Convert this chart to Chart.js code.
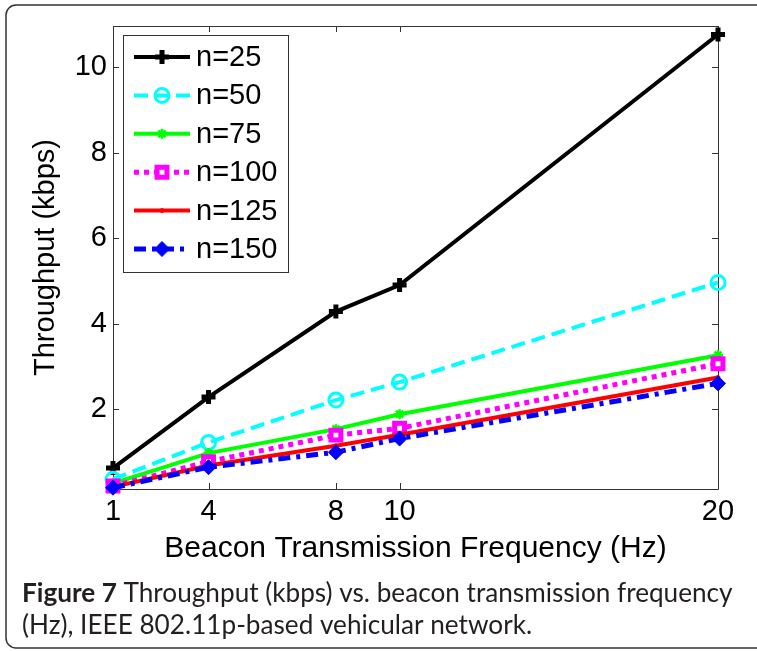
<!DOCTYPE html>
<html><head><meta charset="utf-8">
<script src="https://cdn.jsdelivr.net/npm/chart.js@4/dist/chart.umd.min.js"></script>
<style>html,body{margin:0;padding:0;background:#fff}#wrap{width:757px;height:651px;position:relative}canvas{display:block}</style>
</head><body><div id="wrap"><canvas id="c" width="757" height="651"></canvas></div>
<script>
// ---- data ----
const freqs = [1, 4, 8, 10, 20];
const xTicks = [1, 4, 8, 10, 20];
const yTicks = [2, 4, 6, 8, 10];
const seriesNames = ['n=25', 'n=50', 'n=75', 'n=100', 'n=125', 'n=150'];
const n25  = [0.62, 2.28, 4.28, 4.90, 10.76];
const n50  = [0.36, 1.22, 2.21, 2.63, 4.96];
const n75  = [0.26, 0.97, 1.53, 1.88, 3.26];
const n100 = [0.20, 0.77, 1.39, 1.55, 3.06];
const n125 = [0.18, 0.68, 1.14, 1.40, 2.74];
const n150 = [0.16, 0.64, 0.99, 1.31, 2.60];
const xTitle = 'Beacon Transmission Frequency (Hz)';
const yTitle = 'Throughput (kbps)';
const captionBold = 'Figure 7';
const captionLine1 = ' Throughput (kbps) vs. beacon transmission frequency';
const captionLine2 = '(Hz), IEEE 802.11p-based vehicular network.';

const seriesValues = [n25, n50, n75, n100, n125, n150];
const styles = [
  {color:'#000000', dash:[],           lw:4, ps:'cross',   r:7,   pbw:5, bg:'#000000'},
  {color:'#00ffff', dash:[14,7],       lw:4, ps:'circle',  r:7,   pbw:3, bg:'rgba(0,0,0,0)'},
  {color:'#00ff00', dash:[],           lw:4, ps:'star',    r:5,   pbw:2.5, bg:'#00ff00'},
  {color:'#ff00ff', dash:[5,5],        lw:5, ps:'rect',    r:7,   pbw:5, bg:'#ffffff'},
  {color:'#ff0000', dash:[],           lw:4, ps:'circle',  r:2,   pbw:1, bg:'#ff0000'},
  {color:'#0000ff', dash:[12,6,4,6],   lw:5, ps:'rectRot', r:7.5, pbw:1, bg:'#0000ff'}
];

const FONT = "'Liberation Sans', Arial, Helvetica, sans-serif";
Chart.defaults.font.family = FONT;
Chart.defaults.color = '#000';

const datasets = seriesValues.map((vals, i) => {
  const s = styles[i];
  return {
    label: seriesNames[i],
    data: freqs.map((x, k) => ({x: x, y: vals[k]})),
    borderColor: s.color,
    backgroundColor: s.color,
    borderWidth: s.lw,
    borderDash: s.dash,
    borderCapStyle: 'butt',
    tension: 0,
    pointStyle: s.ps,
    pointRadius: s.r,
    pointHoverRadius: s.r,
    pointBorderWidth: s.pbw,
    pointBorderColor: s.color,
    pointBackgroundColor: s.bg,
    clip: false,
    order: seriesValues.length - 1 - i
  };
});

const AX_COLOR = '#333';

const axesPlugin = {
  id: 'matlabAxes',
  beforeDatasetsDraw(chart) {
    const {ctx, chartArea: a, scales: {x, y}} = chart;
    ctx.save();
    ctx.strokeStyle = AX_COLOR;
    ctx.lineWidth = 1;
    ctx.beginPath();
    ctx.rect(Math.round(a.left) + 0.5, Math.round(a.top) + 0.5, Math.round(a.right - a.left), Math.round(a.bottom - a.top));
    ctx.stroke();
    const tl = 6;
    ctx.beginPath();
    xTicks.forEach(v => {
      const px = Math.round(x.getPixelForValue(v)) + 0.5;
      ctx.moveTo(px, a.bottom); ctx.lineTo(px, a.bottom - tl);
      ctx.moveTo(px, a.top); ctx.lineTo(px, a.top + tl);
    });
    yTicks.forEach(v => {
      const py = Math.round(y.getPixelForValue(v)) + 0.5;
      ctx.moveTo(a.left, py); ctx.lineTo(a.left + tl, py);
      ctx.moveTo(a.right, py); ctx.lineTo(a.right - tl, py);
    });
    ctx.stroke();
    ctx.restore();
  }
};

const legendPlugin = {
  id: 'boxLegend',
  afterDatasetsDraw(chart) {
    const {ctx, chartArea: a} = chart;
    const bx = a.left + 10, by = a.top + 9, bw = 165, bh = 237;
    ctx.save();
    ctx.fillStyle = '#fff';
    ctx.fillRect(bx, by, bw, bh);
    ctx.strokeStyle = AX_COLOR;
    ctx.lineWidth = 1;
    ctx.strokeRect(Math.round(bx) + 0.5, Math.round(by) + 0.5, bw, bh);
    const step = 38.4;
    chart.data.datasets.forEach((ds, i) => {
      const cy = by + 22 + i * step;
      const x1 = bx + 11, x2 = bx + 67, cx = (x1 + x2) / 2;
      ctx.save();
      ctx.strokeStyle = ds.borderColor;
      ctx.lineWidth = ds.borderWidth;
      ctx.lineCap = 'butt';
      ctx.setLineDash(ds.borderDash || []);
      ctx.beginPath(); ctx.moveTo(x1, cy); ctx.lineTo(x2, cy); ctx.stroke();
      ctx.setLineDash([]);
      ctx.strokeStyle = ds.pointBorderColor;
      ctx.fillStyle = ds.pointBackgroundColor;
      ctx.lineWidth = ds.pointBorderWidth;
      Chart.helpers.drawPoint(ctx, {pointStyle: ds.pointStyle, radius: ds.pointRadius, borderWidth: ds.pointBorderWidth, rotation: 0}, cx, cy);
      ctx.restore();
      ctx.fillStyle = '#000';
      ctx.font = '29px ' + FONT;
      ctx.textBaseline = 'middle';
      ctx.textAlign = 'left';
      ctx.fillText(ds.label, bx + 73, cy + 1);
    });
    ctx.restore();
  }
};

const captionPlugin = {
  id: 'caption',
  afterDraw(chart) {
    const ctx = chart.ctx;
    ctx.save();
    // frame
    ctx.strokeStyle = '#333';
    ctx.lineWidth = 1.5;
    const L = 6, T = 5, B = 648, R = 757, rad = 10;
    ctx.beginPath();
    ctx.moveTo(R + 2, T);
    ctx.lineTo(L + rad, T);
    ctx.arcTo(L, T, L, T + rad, rad);
    ctx.lineTo(L, B - rad);
    ctx.arcTo(L, B, L + rad, B, rad);
    ctx.lineTo(R + 2, B);
    ctx.stroke();
    // caption
    const cf = "Lato, 'Open Sans', sans-serif";
    const base = 24;
    ctx.font = 'bold ' + base + 'px ' + cf;
    const wb = ctx.measureText(captionBold).width;
    ctx.font = base + 'px ' + cf;
    const wr = ctx.measureText(captionLine1).width;
    const size = base * 711 / (wb + wr);
    const x0 = 22;
    ctx.fillStyle = '#231f20';
    ctx.textBaseline = 'alphabetic';
    ctx.textAlign = 'left';
    ctx.font = 'bold ' + size + 'px ' + cf;
    ctx.fillText(captionBold, x0, 602);
    const w1 = ctx.measureText(captionBold).width;
    ctx.font = size + 'px ' + cf;
    ctx.fillText(captionLine1, x0 + w1, 602);
    ctx.fillText(captionLine2, x0, 634);
    ctx.restore();
  }
};

new Chart(document.getElementById('c'), {
  type: 'line',
  data: {datasets: datasets},
  options: {
    responsive: false,
    animation: false,
    devicePixelRatio: 1,
    events: [],
    layout: {padding: {top: 26, right: 39, left: 0, bottom: 0}},
    plugins: {legend: {display: false}, tooltip: {enabled: false}},
    scales: {
      x: {
        type: 'linear',
        min: 1, max: 20,
        afterBuildTicks: s => { s.ticks = xTicks.map(v => ({value: v})); },
        afterFit: s => { s.height = 162; },
        grid: {display: false, drawTicks: false},
        border: {display: false},
        ticks: {font: {size: 29}, color: '#000', padding: 6, autoSkip: false, maxRotation: 0, minRotation: 0},
        title: {display: true, text: xTitle, font: {size: 30}, color: '#000', padding: {top: 0, bottom: 84}}
      },
      y: {
        type: 'linear',
        min: 0.13, max: 10.96,
        afterBuildTicks: s => { s.ticks = yTicks.map(v => ({value: v})); },
        afterFit: s => { s.width = 113; },
        grid: {display: false, drawTicks: false},
        border: {display: false},
        ticks: {font: {size: 29}, color: '#000', padding: 6},
        title: {display: true, text: yTitle, font: {size: 29}, color: '#000', padding: {top: 29, bottom: 0}}
      }
    }
  },
  plugins: [axesPlugin, legendPlugin, captionPlugin]
});
</script>
</body></html>
